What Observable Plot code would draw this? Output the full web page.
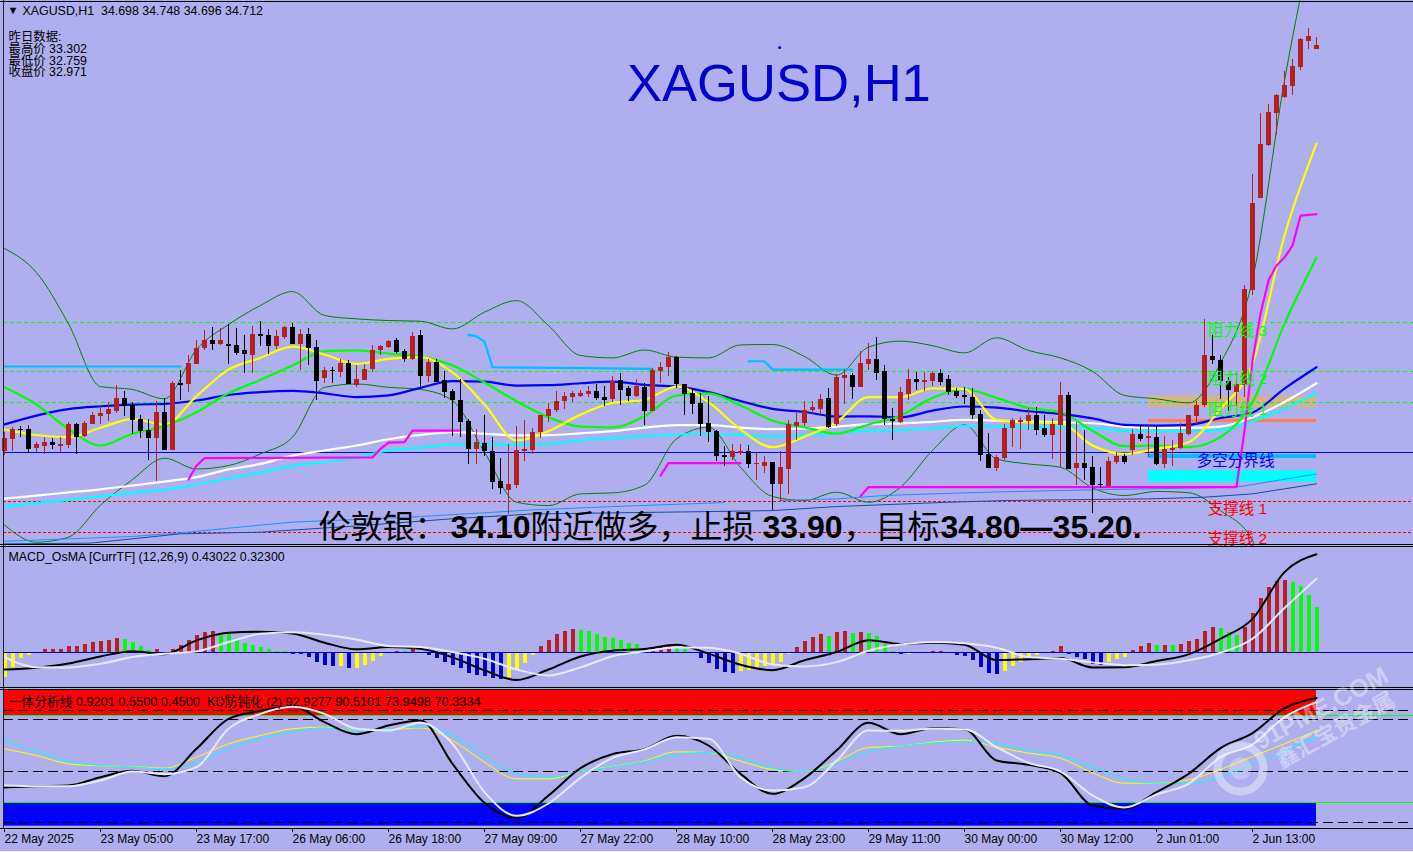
<!DOCTYPE html>
<html lang="zh">
<head>
<meta charset="utf-8">
<title>XAGUSD,H1</title>
<script src="https://cdn.jsdelivr.net/npm/d3@7"></script>
<script src="https://cdn.jsdelivr.net/npm/@observablehq/plot@0.6"></script>
<style>
html,body{margin:0;padding:0;background:#ececf6;overflow:hidden}
#chart{width:1413px;height:851px;background:#afafef}
#chart svg{display:block;overflow:visible!important;background:transparent}
</style>
</head>
<body>
<div id="chart"></div>
<script>
const opens=[33.018,33.067,33.109,33.109,33.029,33.038,33.054,33.039,33.042,33.130,
33.079,33.130,33.163,33.171,33.184,33.238,33.209,33.150,33.104,33.071,
33.180,33.021,33.301,33.297,33.380,33.447,33.480,33.464,33.464,33.459,
33.439,33.418,33.505,33.501,33.455,33.493,33.535,33.464,33.505,33.451,
33.322,33.355,33.347,33.384,33.292,33.313,33.359,33.439,33.451,33.480,
33.434,33.401,33.501,33.330,33.388,33.313,33.267,33.230,33.142,33.025,
33.050,33.017,32.892,32.854,32.875,33.017,33.021,33.096,33.163,33.188,
33.226,33.242,33.246,33.255,33.267,33.242,33.234,33.313,33.280,33.246,
33.284,33.184,33.351,33.368,33.409,33.297,33.259,33.217,33.134,33.100,
33.000,32.992,33.008,33.017,32.962,32.954,32.971,32.879,32.942,33.121,
33.134,33.188,33.192,33.238,33.130,33.322,33.334,33.284,33.380,33.401,
33.351,33.150,33.138,33.255,33.317,33.305,33.309,33.343,33.317,33.267,
33.251,33.242,33.171,33.004,32.946,32.988,33.113,33.138,33.142,33.167,
33.113,33.084,33.125,33.251,32.946,32.967,32.950,32.879,32.871,32.971,
32.996,33.021,33.088,33.071,33.075,32.962,33.021,33.029,33.088,33.163,
33.209,33.413,33.397,33.309,33.263,33.292,33.690,34.074,34.295,34.429,
34.496,34.542,34.621,34.730,34.698];
const highs=[33.096,33.118,33.123,33.125,33.054,33.077,33.071,33.074,33.138,33.134,
33.141,33.178,33.205,33.221,33.291,33.267,33.221,33.167,33.150,33.224,
33.238,33.309,33.355,33.418,33.480,33.522,33.535,33.530,33.547,33.530,
33.501,33.539,33.560,33.526,33.522,33.539,33.551,33.526,33.530,33.480,
33.368,33.368,33.401,33.397,33.376,33.380,33.459,33.459,33.480,33.487,
33.443,33.514,33.522,33.401,33.401,33.351,33.276,33.317,33.150,33.109,
33.167,33.075,32.988,33.046,33.121,33.146,33.113,33.167,33.217,33.267,
33.263,33.267,33.271,33.288,33.297,33.288,33.330,33.343,33.288,33.317,
33.301,33.363,33.388,33.430,33.413,33.297,33.276,33.259,33.246,33.104,
33.038,33.046,33.046,33.042,33.008,32.996,32.971,33.017,33.146,33.175,
33.226,33.226,33.255,33.280,33.338,33.359,33.343,33.434,33.468,33.493,
33.376,33.196,33.284,33.359,33.347,33.347,33.351,33.359,33.334,33.280,
33.284,33.280,33.188,33.092,33.000,33.130,33.155,33.159,33.196,33.200,
33.167,33.155,33.305,33.263,33.138,33.104,32.996,32.950,32.992,33.013,
33.004,33.109,33.125,33.130,33.121,33.079,33.063,33.134,33.167,33.226,
33.568,33.501,33.418,33.326,33.343,33.710,34.174,34.429,34.467,34.508,
34.604,34.655,34.742,34.784,34.748];
const lows=[33.000,33.017,33.077,33.010,33.013,33.004,33.025,33.013,33.031,33.006,
33.074,33.130,33.130,33.142,33.175,33.163,33.088,33.071,32.978,32.892,
33.021,33.021,33.230,33.263,33.380,33.439,33.439,33.459,33.380,33.418,
33.343,33.343,33.455,33.422,33.443,33.485,33.464,33.355,33.376,33.230,
33.301,33.301,33.326,33.297,33.284,33.313,33.347,33.418,33.447,33.426,
33.388,33.397,33.276,33.305,33.305,33.238,33.079,33.075,32.962,32.962,
32.996,32.858,32.837,32.754,32.862,32.975,33.004,33.071,33.138,33.180,
33.192,33.221,33.242,33.242,33.230,33.205,33.221,33.209,33.226,33.242,
33.125,33.184,33.301,33.330,33.280,33.167,33.171,33.079,33.054,32.975,
32.954,32.979,33.000,32.946,32.896,32.925,32.770,32.808,32.837,33.063,
33.121,33.171,33.171,33.113,33.121,33.213,33.234,33.284,33.355,33.313,
33.125,33.063,33.134,33.230,33.271,33.267,33.288,33.292,33.251,33.238,
33.213,33.150,32.975,32.946,32.933,32.979,33.033,33.025,33.104,33.084,
33.075,32.983,32.950,32.942,32.875,32.896,32.758,32.862,32.871,32.962,
32.962,33.000,33.059,32.992,32.958,32.946,32.954,33.025,33.084,33.130,
33.200,33.380,33.234,33.184,33.209,33.242,33.669,34.074,34.291,34.337,
34.492,34.504,34.609,34.696,34.696];
const closes=[33.070,33.109,33.106,33.025,33.046,33.054,33.042,33.046,33.130,33.075,
33.134,33.167,33.175,33.192,33.238,33.206,33.146,33.100,33.071,33.180,
33.021,33.301,33.292,33.384,33.447,33.480,33.464,33.480,33.457,33.426,
33.422,33.505,33.498,33.455,33.497,33.535,33.464,33.505,33.447,33.309,
33.355,33.351,33.384,33.297,33.317,33.359,33.439,33.455,33.476,33.430,
33.401,33.497,33.330,33.388,33.305,33.263,33.230,33.138,33.025,33.054,
33.017,32.887,32.862,32.879,33.021,33.025,33.096,33.167,33.192,33.226,
33.246,33.259,33.259,33.267,33.238,33.231,33.309,33.271,33.246,33.288,
33.184,33.355,33.368,33.409,33.297,33.255,33.213,33.130,33.096,32.996,
32.993,33.017,33.017,32.962,32.967,32.971,32.879,32.950,33.130,33.138,
33.188,33.200,33.234,33.117,33.326,33.334,33.284,33.384,33.401,33.343,
33.150,33.142,33.263,33.317,33.305,33.313,33.343,33.305,33.263,33.246,
33.242,33.167,33.000,32.946,32.992,33.113,33.146,33.146,33.167,33.104,
33.084,33.130,33.251,32.942,32.967,32.946,32.875,32.875,32.975,32.996,
32.971,33.088,33.067,33.079,32.962,33.025,33.029,33.092,33.167,33.209,
33.418,33.397,33.309,33.271,33.297,33.693,34.053,34.300,34.433,34.504,
34.546,34.625,34.738,34.751,34.712];

// moving averages and bands, one reading every fourth bar
const maYellow=[33.109,33.086,33.077,33.116,33.152,33.130,33.248,33.359,33.408,33.455,33.422,33.383,33.404,33.411,33.347,33.213,33.063,33.102,33.171,33.220,33.233,33.288,33.223,33.109,33.035,33.079,33.139,33.244,33.244,33.281,33.278,33.149,33.139,33.135,33.042,33.007,33.028,33.056,33.195,33.383,33.919,34.303];
const maLime=[33.285,33.213,33.111,33.042,33.091,33.123,33.181,33.260,33.316,33.376,33.436,33.439,33.426,33.414,33.376,33.305,33.227,33.160,33.121,33.118,33.164,33.251,33.260,33.209,33.146,33.118,33.091,33.130,33.167,33.241,33.277,33.241,33.199,33.181,33.104,33.039,33.042,33.035,33.077,33.223,33.550,33.827];
const maBlue=[33.130,33.167,33.194,33.206,33.213,33.216,33.230,33.253,33.265,33.270,33.260,33.244,33.251,33.283,33.311,33.309,33.292,33.294,33.302,33.309,33.295,33.288,33.265,33.228,33.195,33.182,33.163,33.164,33.160,33.188,33.205,33.200,33.185,33.174,33.155,33.128,33.125,33.128,33.157,33.180,33.280,33.369];
const maWhite=[32.820,32.833,32.846,32.859,32.875,32.891,32.910,32.942,32.965,33.000,33.021,33.042,33.068,33.086,33.098,33.091,33.084,33.085,33.093,33.102,33.117,33.127,33.127,33.117,33.110,33.113,33.121,33.131,33.134,33.141,33.149,33.146,33.142,33.139,33.135,33.121,33.116,33.116,33.121,33.160,33.224,33.302];
const maCyan=[32.787,32.801,32.815,32.829,32.844,32.858,32.879,32.903,32.928,32.957,32.972,32.992,33.021,33.033,33.046,33.046,33.046,33.049,33.063,33.072,33.081,33.088,33.091,33.086,33.079,33.085,33.095,33.103,33.106,33.113,33.123,33.121,33.118,33.121,33.116,33.103,33.102,33.104,33.107,33.143,33.196,33.260];
const bandUpper=[33.865,33.764,33.550,33.288,33.276,33.237,33.443,33.547,33.627,33.685,33.585,33.571,33.564,33.561,33.529,33.599,33.647,33.543,33.418,33.408,33.441,33.411,33.408,33.462,33.464,33.414,33.336,33.453,33.478,33.459,33.429,33.492,33.439,33.408,33.352,33.251,33.237,33.220,33.386,33.735,34.566,35.235];
const bandLower=[32.710,32.638,32.659,32.793,32.900,32.989,32.944,32.958,33.007,33.077,33.285,33.299,33.285,33.276,33.230,33.014,32.805,32.791,32.840,32.844,32.876,33.070,33.118,32.951,32.829,32.812,32.847,32.805,32.868,33.021,33.128,32.986,32.965,32.951,32.865,32.833,32.850,32.845,32.770,32.645,32.199,31.782];

// irregular, broken lines: bar number and price
const magentaBars=[23,24,25,46,47,48,50,51,57,58,82,83,92,100,107,108,154,155,156,157,158,159,160,161,162,163,164];
const magentaVals=[32.900,32.958,32.989,32.992,33.028,33.054,33.056,33.104,33.104,NaN,32.916,32.968,32.968,NaN,32.830,32.868,32.868,33.104,33.397,33.592,33.731,33.794,33.827,33.877,34.002,34.005,34.008];
const skyBars=[0,22,40,58,59,60,61,81,87,93,95,96,106];
const skyVals=[33.372,33.372,NaN,33.504,33.498,33.476,33.369,33.362,NaN,33.394,33.394,33.359,33.359];
const dodgerBars=[0,8,16,22,30,36,44,52,60,66,76,88,90,91,97,104,110,116,124,132,143,154,164];
const dodgerVals=[32.642,32.652,32.662,32.677,32.703,32.722,32.733,32.745,32.761,32.773,32.787,32.801,32.804,NaN,32.812,32.819,32.833,32.840,32.848,32.854,32.861,32.868,32.923];
const navyBars=[0,10,11,22,32,44,56,66,88,96,104,118,125,132,143,150,156,164];
const navyVals=[32.631,32.634,32.635,32.673,32.680,32.706,32.736,32.756,32.766,32.770,32.787,32.805,32.812,32.815,32.819,32.826,32.840,32.882];

// pivot levels
const resistance=[33.222,33.351,33.556];
const pivot=33.0125;
const support=[32.8075,32.678];
const levelNames=["阻力线 3","阻力线 2","阻力线 1","多空分界线","支撑线 1","支撑线 2"];
const levelLabelX=[150.4,150.4,150.4,149.0,150.4,150.4];
const levelLabelY=[33.522,33.320,33.191,32.979,32.777,32.652];
const levelLabelColor=["#00ff00","#00ff00","#00ff00","#0000ff","#ff0000","#ff0000"];
const levelLabelSize=[15.5,15.5,15.5,15.6,15.5,15.5];
const bandColors=["tan","coral","deepskyblue","cyan"];
const bandTop=[33.249,33.151,33.004,32.937];
const bandBottom=[33.200,33.138,32.988,32.889];
const bandStart=143, bandEnd=164;

// MACD panel
const histValues=[-.106,-.063,-.026,-.012,0,.015,.015,.015,.028,.028,.036,.045,.049,.054,.063,.058,.045,.028,.010,.015,0,.015,.032,.054,.076,.089,.093,.076,.080,.054,.041,.032,.023,.015,.006,.006,-.007,-.007,-.020,-.042,-.055,-.060,-.060,-.068,-.068,-.055,-.038,-.016,0,.006,.006,.015,0,-.012,-.025,-.042,-.055,-.068,-.090,-.099,
-.103,-.112,-.116,-.108,-.077,-.047,-.012,.028,.054,.080,.093,.102,.097,.093,.080,.067,.063,.054,.041,.036,0,.023,.028,.032,.019,.015,0,-.025,-.047,-.073,-.086,-.090,-.081,-.077,-.064,-.060,-.055,-.042,-.007,.023,.049,.067,.080,.071,.089,.093,.084,.089,.084,.071,.036,.006,-.007,-.007,0,0,.006,.006,0,-.012,-.016,-.033,-.064,-.090,-.095,-.081,-.060,-.042,-.016,-.012,0,.006,.028,-.007,-.020,-.029,-.051,-.055,-.042,-.029,-.020,.010,.028,.041,.032,.032,.032,.036,.049,.058,.093,.111,.106,.089,.076,.111,.172,.237,.285,.311,.316,.307,.289,.250,.198];
const histKinds="YYYY-RRRRRRRRRRGGGGR-RRRRRRGGGGGGGGGBBBBBBYBYYYY-RGR-BBBBBBBBBBYYYYRRRRRGGGGGGGG-RRRGG-BBBBBYYYYYYYRRRRGRRGRGGGGBY--RR-BBBBBBYYYYY-RRBBBBBYYYRRRGRGRRRRRGGGRRRRRRGGGG";
const histPalette={R:"#b22222",G:"#00ff00",B:"#0000cd",Y:"#ffff00"};
const macdBlack=[-.073,-.065,-.047,-.016,.007,-.006,.054,.087,.092,.084,.044,.015,.025,.017,-.020,-.077,-.119,-.073,-.016,.009,.016,.035,-.004,-.052,-.076,-.033,.003,.055,.038,.044,.035,-.032,-.028,-.023,-.064,-.063,-.036,-.007,.061,.148,.352,.430];
const macdWhite=[-.019,-.063,-.064,-.048,-.019,-.004,.006,.047,.083,.090,.079,.058,.029,.025,.003,-.026,-.073,-.099,-.064,-.015,.006,.023,.022,-.004,-.051,-.060,-.041,.009,.036,.047,.041,.022,-.019,-.026,-.042,-.054,-.052,-.033,0,.061,.195,.323];

// KD panel
const kdBlack=[40.87,41.64,42.03,46.87,50.56,47.46,63.35,80.79,85.44,88.15,78.85,71.88,76.91,79.82,54.63,31.95,23.04,36.22,52.11,60.25,63.15,70.91,65.29,48.81,37.19,46.29,62.38,78.46,71.88,75.36,74.79,56.57,54.05,49.21,30.41,28.47,38.16,48.82,63.74,72.46,86.99,92.93];
const kdWhite=[42.03,41.64,41.64,44.94,50.17,48.62,52.69,74.98,83.70,87.77,83.70,74.98,74.01,78.46,66.25,38.15,24.40,31.56,46.49,58.12,62.96,70.13,69.16,46.88,39.12,41.06,56.37,74.01,73.81,74.98,74.79,64.32,55.21,50.17,36.22,29.25,36.80,43.00,58.51,65.87,81.76,90.51];
const kdYellow=[63.35,59.47,54.63,53.46,53.08,52.11,58.50,66.26,71.10,74.98,75.95,74.01,74.39,75.56,68.19,55.60,45.91,45.91,50.17,53.08,56.37,61.60,61.22,56.18,51.33,50.17,55.98,64.12,64.90,67.22,68.39,64.32,60.84,57.93,49.40,43.39,43.39,45.33,51.34,58.90,66.26,73.95];
const kdCyan=[67.80,61.99,55.98,53.66,52.88,51.72,55.01,63.35,69.16,73.04,75.56,74.01,74.98,75.95,71.10,59.09,49.01,46.88,50.17,52.88,55.98,60.05,61.22,58.31,52.11,50.17,54.63,61.80,64.90,66.64,67.62,66.26,62.38,59.48,52.69,45.91,43.39,43.39,46.88,54.24,62.00,70.33];
const kdDashed=[85.64,80.41,50.17,20.52];
const kdZoneColors=["#ff0000","#0000ff"];
const kdZoneTop=[97.46,32.15];
const kdZoneBottom=[82.73,18.39];
const kdGreen=[82.73,32.15];

// time axis
const tickBars=[0,12,24,36,48,60,72,84,96,108,120,132,144,156];
const tickLabels=["22 May 2025","23 May 05:00","23 May 17:00","26 May 06:00","26 May 18:00","27 May 09:00","27 May 22:00","28 May 10:00","28 May 23:00","29 May 11:00","30 May 00:00","30 May 12:00","2 Jun 01:00","2 Jun 13:00"];

// texts
const symbolLine="XAGUSD,H1  34.698 34.748 34.696 34.712";
const infoLines=["昨日数据:","最高价 33.302","最低价 32.759","收盘价 32.971"];
const titleText="XAGUSD,H1";
const adviceParts=["伦敦银\uFF1A","34.10","附近做多\uFF0C止损","33.90","\uFF0C目标","34.80—35.20."];
const adviceBars=[39.25,55.75,65.75,94.75,104.875,117];
const macdLabel="MACD_OsMA [CurrTF] (12,26,9) 0.43022 0.32300";
const kdLabel="一体分析线 0.9201 0.5500 0.4500  KD防钝化 (2) 92.9277 90.5101 73.9498 70.3334";

const SANS="'Liberation Sans','Noto Sans CJK SC',sans-serif";
const XDOM=[-0.5,176.125];
const LEFT=-0.125;
const step4=d3.range(0,165,4);
const line4=(vals,stroke,strokeWidth)=>Plot.line(vals,{x:(d,k)=>step4[k],y:d=>d,stroke,strokeWidth,curve:"monotone-x",clip:true});
const lineAt=(bars,vals,stroke,strokeWidth,curve="linear")=>Plot.line(vals,{x:(d,k)=>bars[k],y:d=>d,stroke,strokeWidth,curve,clip:true});
const hRule=(vals,stroke,extra={})=>Plot.ruleY(vals,{y:d=>d,x1:LEFT,x2:XDOM[1],stroke,strokeWidth:1,shapeRendering:"crispEdges",...extra});
const corner=(txt,dx,dy,extra={})=>Plot.text([txt],{text:d=>d,frameAnchor:"top-left",dx,dy,fontSize:12.4,fontFamily:SANS,fill:"#000",...extra});
const common={width:1413,marginTop:0,marginLeft:0,marginRight:0,marginBottom:0,x:{axis:null,domain:XDOM},style:{background:"transparent"}};

const bars=opens.map((o,i)=>({i,o,h:highs[i],l:lows[i],c:closes[i]}));
const candleColor=d=>d.c>=d.o?"#b22222":"#000000";
const MA=2.2;

const main=Plot.plot({...common,height:545,
  y:{axis:null,domain:[32.6243,34.9008]},
  marks:[
    Plot.rect(bandColors,{x1:bandStart,x2:bandEnd,y1:(d,k)=>bandBottom[k],y2:(d,k)=>bandTop[k],fill:d=>d}),
    hRule(resistance,"#00ff00",{strokeDasharray:"4,3"}),
    hRule([pivot],"#0000ff"),
    hRule(support,"#ff0000",{strokeDasharray:"3,2"}),
    line4(bandUpper,"#008000",1),
    line4(bandLower,"#008000",1),
    lineAt(dodgerBars,dodgerVals,"#1e90ff",1),
    lineAt(navyBars,navyVals,"#0b4f9e",1),
    line4(maCyan,"#00ffff",MA),
    line4(maWhite,"#ffffff",MA),
    line4(maBlue,"#0000ff",MA),
    line4(maLime,"#00ff00",MA),
    line4(maYellow,"#ffff00",MA),
    lineAt(skyBars,skyVals,"#00bfff",MA),
    lineAt(magentaBars,magentaVals,"#ff00ff",MA),
    Plot.ruleX(bars,{x:"i",y1:"l",y2:"h",stroke:candleColor,strokeWidth:1,shapeRendering:"crispEdges"}),
    Plot.ruleX(bars,{x:"i",y1:"o",y2:"c",stroke:candleColor,strokeWidth:5,shapeRendering:"crispEdges"}),
    ...levelNames.map((t,k)=>Plot.text([t],{text:d=>d,x:levelLabelX[k],y:levelLabelY[k],fill:levelLabelColor[k],fontSize:levelLabelSize[k],fontFamily:SANS,textAnchor:"start"})),
    ...adviceParts.map((t,k)=>Plot.text([t],{text:d=>d,x:adviceBars[k],y:32.700,textAnchor:"start",fill:"#000",fontSize:32,fontWeight:k%2?"bold":"normal",fontFamily:SANS})),
    Plot.text([titleText],{text:d=>d,x:96.8,y:34.550,fill:"#0000cd",fontSize:52.6,fontFamily:SANS}),
    Plot.dot([titleText],{x:96.9,y:34.705,r:1.5,fill:"#0000cd"}),
    corner("▼",7,6,{fontSize:11}),
    corner(symbolLine,22,6),
    ...infoLines.map((t,k)=>corner(t,8,32+k*11.7)),
    hRule([34.897],"#000",{x1:XDOM[0]}),
    hRule([32.629],"#000",{x1:XDOM[0]}),
    Plot.ruleX([LEFT],{stroke:"#222",strokeWidth:1,shapeRendering:"crispEdges"})
  ]});

const histRows=histValues.map((v,i)=>({i,v,kind:histKinds[i]})).filter(d=>d.kind!=="-");
const macd=Plot.plot({...common,height:143,
  y:{axis:null,domain:[-0.156,0.468]},
  marks:[
    Plot.ruleX(histRows,{x:"i",y1:()=>0,y2:"v",stroke:d=>histPalette[d.kind],strokeWidth:4,shapeRendering:"crispEdges"}),
    hRule([0],"#0000cd"),
    line4(macdBlack,"#000000",2),
    line4(macdWhite,"#e8e8fa",2),
    corner(macdLabel,8,6.5),
    hRule([0.4636],"#000",{x1:XDOM[0]}),
    hRule([-0.1514],"#000",{x1:XDOM[0]}),
    Plot.ruleX([LEFT],{stroke:"#222",strokeWidth:1,shapeRendering:"crispEdges"})
  ]});

const kd=Plot.plot({...common,height:163,marginBottom:23,
  y:{axis:null,domain:[17.03,98.43]},
  marks:[
    Plot.rect(kdZoneColors,{x1:0,x2:164,y1:(d,k)=>kdZoneBottom[k],y2:(d,k)=>kdZoneTop[k],fill:d=>d}),
    hRule(kdGreen,"#00ff00"),
    hRule(kdDashed,"#000",{strokeDasharray:"10,5"}),
    line4(kdYellow,"#ffff00",1),
    line4(kdCyan,"#00ffff",1),
    line4(kdBlack,"#000000",2),
    line4(kdWhite,"#e8e8fa",2),
    corner(kdLabel,8,8.5,{fontSize:12.75}),
    hRule([97.85],"#000",{x1:XDOM[0]}),
    hRule([17.3],"#000",{x1:XDOM[0]}),
    Plot.ruleX([LEFT],{stroke:"#222",strokeWidth:1,shapeRendering:"crispEdges"}),
    Plot.axisX(tickBars,{anchor:"bottom",tickSize:4,tickPadding:2,fontSize:12,fontFamily:SANS,fill:"#000",stroke:"#000",textAnchor:"start",tickFormat:(d)=>tickLabels[tickBars.indexOf(d)]}),
    Plot.dot([0],{x:154.5,y:51.9,r:23,fill:"none",stroke:"#fff",strokeWidth:8,strokeOpacity:0.38}),
    Plot.dot([0],{x:154.5,y:51.9,r:11,fill:"#fff",fillOpacity:0.25}),
    Plot.text(["91PME.COM"],{text:d=>d,x:164.6,y:86.8,rotate:-28,fontSize:25,fontWeight:"bold",fill:"#fff",fillOpacity:0.38,fontFamily:SANS}),
    Plot.text(["鑫汇宝贵金属"],{text:d=>d,x:166.4,y:74,rotate:-29,fontSize:22,fontWeight:"bold",fill:"#fff",fillOpacity:0.38,fontFamily:SANS})
  ]});

const root=document.getElementById("chart");
root.append(main,macd,kd);
</script>
</body>
</html>
